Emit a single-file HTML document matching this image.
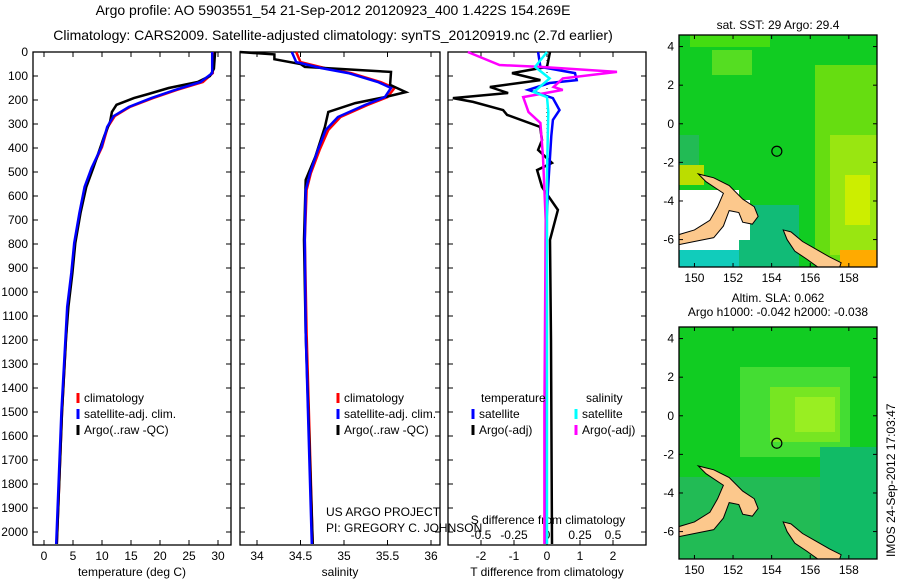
<!DOCTYPE html>
<html><head><meta charset="utf-8"><style>
body{margin:0;background:#fff;}
svg{display:block;font-family:"Liberation Sans",sans-serif;}
</style></head><body>
<svg id="chart" width="900" height="580" viewBox="0 0 900 580">
<g id="titles">
<text x="333" y="15" text-anchor="middle" font-size="14">Argo profile: AO 5903551_54 21-Sep-2012 20120923_400 1.422S 154.269E</text>
<text x="333" y="40" text-anchor="middle" font-size="14">Climatology: CARS2009. Satellite-adjusted climatology: synTS_20120919.nc (2.7d earlier)</text>
</g>
<g id="layer"></g>
<text x="326" y="516" font-size="12">US ARGO PROJECT</text>
<text x="326" y="532" font-size="12">PI: GREGORY C. JOHNSON</text>
<text transform="translate(895,557) rotate(-90)" font-size="12">IMOS 24-Sep-2012 17:03:47</text>
</svg>
<script>
// ---- data ----
const depthTicks=[0,100,200,300,400,500,600,700,800,900,1000,1100,1200,1300,1400,1500,1600,1700,1800,1900,2000];
const tTicks=[0,5,10,15,20,25,30];
const sTicks=[34,34.5,35,35.5,36];
const tdTicks=[-2,-1,0,1,2];
const sdTicks=[-0.5,-0.25,0,0.25,0.5];
const sdTickLabels=["-0.5","-0.25","0","0.25","0.5"];
const latTicks=[4,2,0,-2,-4,-6];
const lonTicks=[150,152,154,156,158];

const tDepth=[0,88,125,158,192,229,267,312,396,442,483,562,671,796,921,1062,1192,1500,2050];
const tClim=[29.1,29.1,27.4,22.9,18.8,14.8,12.2,11.0,10.0,9.1,8.3,7.1,6.2,5.3,4.8,4.1,3.8,3.1,2.2];
const tSat=[29.0,29.0,27.0,22.6,18.5,14.6,12.0,10.9,9.9,9.0,8.2,7.0,6.1,5.2,4.7,4.0,3.7,3.0,2.1];
const tArgoDepth=[0,70,100,125,150,175,192,220,250,290,350,420,483,562,671,796,921,1062,1192,1500,2050];
const tArgo=[29.5,29.3,28.6,26.5,21.5,18.0,15.5,12.5,11.7,11.4,10.4,9.4,8.5,7.3,6.3,5.4,4.9,4.2,3.8,3.1,2.2];

const sDepth=[0,42,67,88,125,150,188,221,271,325,408,504,575,783,1171,2050];
const sClim=[34.45,34.5,34.78,35.08,35.42,35.58,35.5,35.27,34.96,34.82,34.72,34.62,34.57,34.55,34.57,34.64];
const sSat=[34.4,34.45,34.74,35.05,35.39,35.54,35.47,35.24,34.93,34.79,34.70,34.61,34.56,34.55,34.56,34.63];
const sArgoDepth=[0,10,30,50,62,83,137,167,188,213,250,312,437,533,783,1171,2050];
const sArgo=[33.8,34.2,34.2,34.5,34.55,35.54,35.53,35.71,35.47,35.13,34.82,34.78,34.67,34.56,34.54,34.56,34.64];

const dDepth=[0,62,88,117,146,171,192,208,242,262,312,367,408,462,492,562,658,783,1200,2050];
const dTArgo=[0.09,0,-1.06,-0.2,-1.73,-1.18,-2.85,-2.24,-1.33,-1.21,-0.21,-0.15,-0.27,0.15,-0.3,-0.15,0.33,0.09,0.12,0.15];
const dSatDepth=[0,62,88,117,129,158,192,242,283,350,571,783,2050];
const dTSat=[-0.27,-0.2,0.85,0.9,0.08,-0.57,0.18,0.38,0.18,0.13,0.03,-0.04,-0.03];
const dSDepth=[0,54,62,83,110,146,158,188,250,296,437,700,1500,2050];
const dSArgo=[-0.6,-0.36,-0.05,0.53,0.12,0.05,0.12,-0.18,-0.14,-0.05,-0.03,-0.01,-0.02,-0.02];
const dSSatDepth=[0,62,110,167,188,250,500,2050];
const dSSat=[0,-0.09,0.02,-0.1,0,0.01,0,0];

// ---- drawing ----
const NS="http://www.w3.org/2000/svg";
const L=document.getElementById('layer');
function mk(tag,attrs,parent){const e=document.createElementNS(NS,tag);for(const k in attrs)e.setAttribute(k,attrs[k]);(parent||L).appendChild(e);return e;}
function txt(x,y,s,anchor,size,parent){const t=mk('text',{x:x,y:y,'text-anchor':anchor||'middle','font-size':size||12},parent);t.textContent=s;return t;}
const Y0=52,PPD=0.24,YB=545;
const yD=d=>Y0+d*PPD;
const panels=[{x0:33,x1:231},{x0:240,x1:440},{x0:448,x1:646}];
const xT=v=>44+v*5.8;
const xS=v=>257+(v-34)*87;
const xTD=v=>547+v*33;
const xSD=v=>547+v*132;
function line(depths,vals,fx,color,w,name){
  const p=mk('polyline',{points:depths.map((d,i)=>fx(vals[i]).toFixed(1)+','+Math.min(yD(d),YB-1).toFixed(1)).join(' '),fill:'none',stroke:color,'stroke-width':w});
  
  
}
panels.forEach((p,i)=>{
  const r=mk('rect',{x:p.x0,y:Y0,width:p.x1-p.x0,height:YB-Y0,fill:'#fff',stroke:'#000','stroke-width':1.3});
  
  
  depthTicks.forEach(d=>{mk('line',{x1:p.x0,x2:p.x0+5,y1:yD(d),y2:yD(d),stroke:'#000'});mk('line',{x1:p.x1-5,x2:p.x1,y1:yD(d),y2:yD(d),stroke:'#000'});});
});
depthTicks.forEach(d=>{const t=txt(28,yD(d)+4,String(d),'end',12);
  
  });
function xticks(ticks,labels,fx,yl,top){ticks.forEach((v,i)=>{const x=fx(v);
  mk('line',{x1:x,x2:x,y1:YB-5,y2:YB,stroke:'#000'});if(top)mk('line',{x1:x,x2:x,y1:Y0,y2:Y0+5,stroke:'#000'});
  const t=txt(x,yl,labels[i]);
  
  });}
xticks(tTicks,tTicks.map(String),xT,560,true);
xticks(sTicks,sTicks.map(String),xS,560,true);
xticks(tdTicks,tdTicks.map(String),xTD,560,false);
sdTicks.forEach((v,i)=>{const x=xSD(v);mk('line',{x1:x,x2:x,y1:Y0,y2:Y0+5,stroke:'#000'});
  const t=txt(x,539,sdTickLabels[i]);
  
  });
[[132,'temperature (deg C)'],[340,'salinity'],[547,'T difference from climatology']].forEach(a=>{const t=txt(a[0],576,a[1]);
  
  });
{const t=txt(548,524,'S difference from climatology');
  
  }

// panel 1
line(tDepth,tClim,xT,'#f00',2.5,'temp-climatology-line');
line(tArgoDepth,tArgo,xT,'#000',2.5,'temp-argo-line');
line(tDepth,tSat,xT,'#00f',2.5,'temp-satellite-line');
// panel 2
line(sDepth,sClim,xS,'#f00',2.5,'sal-climatology-line');
line(sArgoDepth,sArgo,xS,'#000',2.5,'sal-argo-line');
line(sDepth,sSat,xS,'#00f',2.5,'sal-satellite-line');
// panel 3
mk('line',{x1:547,x2:547,y1:Y0,y2:YB,stroke:'#000','stroke-dasharray':'1,3'});
line(dDepth,dTArgo,xTD,'#000',2.5,'tdiff-argo-line');
line(dSatDepth,dTSat,xTD,'#00f',2.5,'tdiff-satellite-line');
line(dSDepth,dSArgo,xSD,'#f0f',2.5,'sdiff-argo-line');
line(dSSatDepth,dSSat,xSD,'#0ff',2.5,'sdiff-satellite-line');

function legend(x,y,items,parent){items.forEach((it,i)=>{
  mk('line',{x1:x,x2:x,y1:y+i*16-9,y2:y+i*16+1,stroke:it[0],'stroke-width':3},parent);
  const t=txt(x+6,y+i*16,it[1],'start',12,parent);
  
  });}
legend(78,402,[['#f00','climatology'],['#00f','satellite-adj. clim.'],['#000','Argo(..raw -QC)']]);
legend(338,402,[['#f00','climatology'],['#00f','satellite-adj. clim.'],['#000','Argo(..raw -QC)']]);
txt(481,402,'temperature','start');
txt(586,402,'salinity','start');
legend(473,418,[['#00f','satellite'],['#000','Argo(-adj)']]);
legend(576,418,[['#0ff','satellite'],['#f0f','Argo(-adj)']]);

// ---- maps ----
function map(top,name,title1,blobs){
  const g=mk('g',{});
  
  
  const x0=679,x1=877,y1=top+232;
  const cid='clip'+top;
  const cp=mk('clipPath',{id:cid},g);mk('rect',{x:x0,y:top,width:x1-x0,height:y1-top},cp);
  const inner=mk('g',{'clip-path':'url(#'+cid+')'},g);
  mk('rect',{x:x0,y:top,width:x1-x0,height:y1-top,fill:'#11cc22'},inner);
  blobs.forEach(b=>mk('rect',{x:b[0],y:top+b[1],width:b[2],height:b[3],fill:b[4]},inner));
  const lx=v=>x0+(v-149.2)*19.3, ly=v=>top+(4.6-v)*19.3;
  const land=[[149,-6.3],[150,-6.1],[151,-5.9],[151.5,-5.3],[151.8,-4.5],[152.3,-4.6],[152.5,-5.1],[153,-5.2],[153.3,-4.8],[153.1,-4.3],[152.5,-3.9],[151.8,-3.2],[151,-2.8],[150.2,-2.6],[150.6,-3.0],[151.5,-3.6],[151.2,-4.3],[150.8,-5.0],[150,-5.5],[149,-5.8]];
  mk('polygon',{points:land.map(p=>lx(p[0])+','+ly(p[1])).join(' '),fill:'#fcc88c',stroke:'#000','stroke-width':1},inner);
  const land2=[[154.6,-5.5],[155,-5.6],[155.6,-6.1],[156.3,-6.5],[157,-6.9],[157.6,-7.2],[157.5,-7.5],[156.5,-7.5],[155.8,-7.0],[155.2,-6.6],[154.8,-6.0]];
  mk('polygon',{points:land2.map(p=>lx(p[0])+','+ly(p[1])).join(' '),fill:'#fcc88c',stroke:'#000','stroke-width':1},inner);
  mk('circle',{cx:lx(154.269),cy:ly(-1.422),r:5,fill:'none',stroke:'#000','stroke-width':1.2},g);
  mk('rect',{x:x0,y:top,width:x1-x0,height:y1-top,fill:'none',stroke:'#000','stroke-width':1.3},g);
  lonTicks.forEach(v=>{const x=lx(v);mk('line',{x1:x,x2:x,y1:y1-4,y2:y1,stroke:'#000'},g);mk('line',{x1:x,x2:x,y1:top,y2:top+4,stroke:'#000'},g);
    const t=txt(x,y1+15,String(v),'middle',12,g);
    
    });
  latTicks.forEach(v=>{const y=ly(v);mk('line',{x1:x0,x2:x0+4,y1:y,y2:y,stroke:'#000'},g);mk('line',{x1:x1-4,x2:x1,y1:y,y2:y,stroke:'#000'},g);
    const t=txt(674,y+4,String(v),'end',12,g);
    
    });
  if(title1){const t=txt(778,top-6,title1,'middle',12,g);}
}
map(35,'sst-map','sat. SST: 29 Argo: 29.4',[
  [815,30,62,200,'#66dd11'],[830,100,47,120,'#99e611'],[845,140,25,50,'#ccee00'],[690,0,80,12,'#44dd11'],
  [712,15,40,25,'#55dd22'],[679,100,20,40,'#22bb55'],[679,130,25,20,'#bbdd00'],[679,170,120,62,'#11bb77'],[679,200,60,32,'#11ccbb'],
  [840,215,37,17,'#ffaa00'],[679,155,60,60,'#ffffff'],[725,165,25,40,'#ffffff']]);
map(327,'sla-map',null,[
  [740,40,110,90,'#44dd33'],[770,60,70,55,'#77e622'],[795,70,40,35,'#99ee22'],[679,150,198,82,'#22bb55'],[820,120,57,112,'#11bb66']]);
{const t=txt(778,302,'Altim. SLA: 0.062','middle',12);
 
 }
{const t=txt(778,316,'Argo h1000: -0.042 h2000: -0.038','middle',12);
 
 }
</script>
</body></html>
